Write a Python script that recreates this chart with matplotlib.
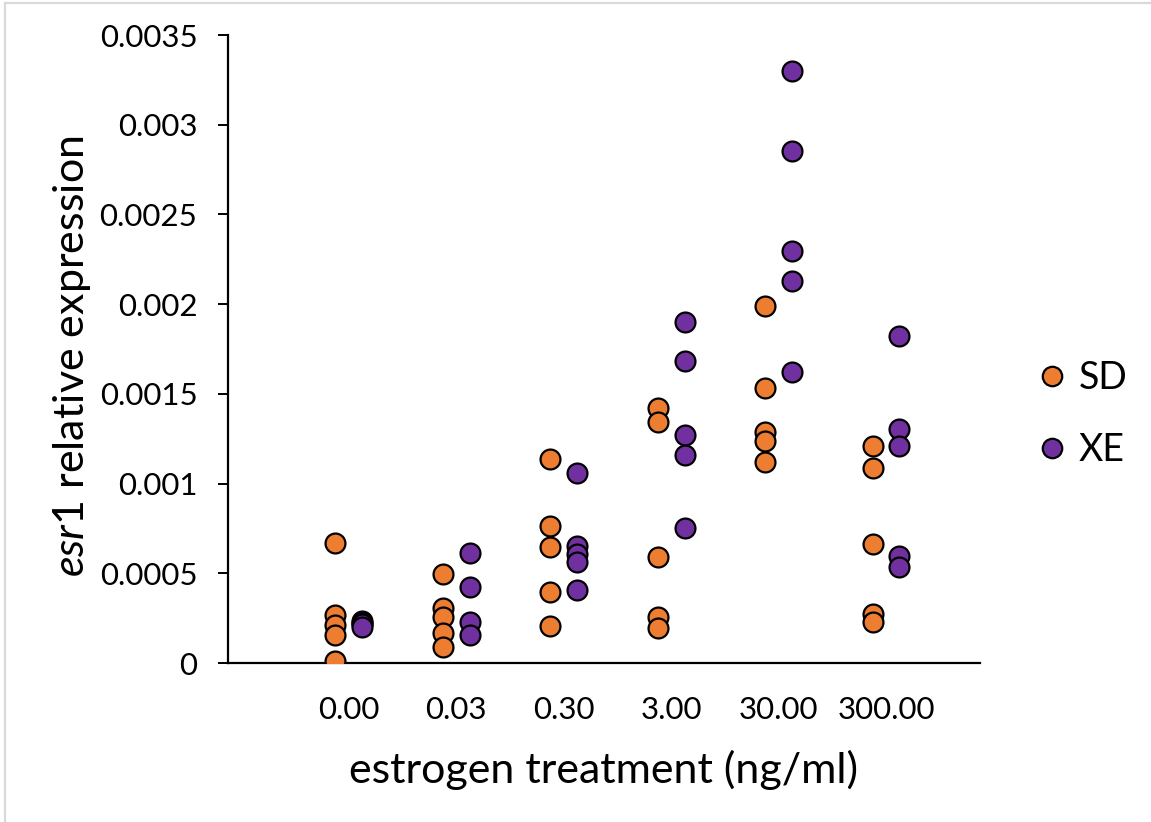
import matplotlib
matplotlib.use("Agg")
import matplotlib.pyplot as plt
from matplotlib.lines import Line2D

# estrogen doses (ng/ml) shown along the x axis
doses = ["0.00", "0.03", "0.30", "3.00", "30.00", "300.00"]

# esr1 relative expression, one list per dose
sd_values = [
    [0.00067, 0.000268, 0.000212, 0.000156, 0.00001],
    [0.000496, 0.000305, 0.000258, 0.000165, 0.000091],
    [0.001135, 0.000766, 0.000649, 0.000398, 0.000206],
    [0.00142, 0.001345, 0.000589, 0.000258, 0.000193],
    [0.00199, 0.001531, 0.001289, 0.001237, 0.001122],
    [0.001211, 0.001085, 0.000663, 0.000271, 0.00023],
]
xe_values = [
    [0.000235, 0.000225, 0.000215, 0.0002],
    [0.000611, 0.000422, 0.00023, 0.000156],
    [0.001057, 0.000654, 0.000607, 0.000562, 0.000407],
    [0.001899, 0.001683, 0.001271, 0.00116, 0.000754],
    [0.0033, 0.002855, 0.002296, 0.002131, 0.00162],
    [0.001822, 0.001304, 0.001211, 0.000598, 0.000537],
]
series_names = ["SD", "XE"]
series_colors = ["#ED7D31", "#7030A0"]

plt.rcParams["font.family"] = ["Lato", "DejaVu Sans"]
plt.rcParams["mathtext.fontset"] = "custom"
plt.rcParams["mathtext.rm"] = "Lato"
plt.rcParams["mathtext.it"] = "Lato:italic"

fig = plt.figure(figsize=(11.51, 8.22), dpi=100)
ax = fig.add_axes([0.1981, 0.1934, 0.6533, 0.7640])

marker_kw = dict(s=205, edgecolors="black", linewidths=1.6, zorder=3)
offsets = [0.0, 0.25]
for k, (name, color, groups) in enumerate(zip(series_names, series_colors, [sd_values, xe_values])):
    xs, ys = [], []
    for i, vals in enumerate(groups):
        xs += [i + 1 + offsets[k]] * len(vals)
        ys += vals
    ax.scatter(xs, ys, color=color, label=name, **marker_kw)

ax.set_xlim(0, 7)
ax.set_ylim(0, 0.0035)
ax.set_yticks([0, 0.0005, 0.001, 0.0015, 0.002, 0.0025, 0.003, 0.0035])
ax.set_yticklabels(["0", "0.0005", "0.001", "0.0015", "0.002", "0.0025", "0.003", "0.0035"])
ax.set_xticks([i + 1.125 for i in range(len(doses))])
ax.set_xticklabels(doses)

for side in ["top", "right"]:
    ax.spines[side].set_visible(False)
for side in ["left", "bottom"]:
    ax.spines[side].set_linewidth(1.6)
    ax.spines[side].set_color("black")

ax.tick_params(axis="y", direction="out", length=7, width=1.4, pad=15, labelsize=22.5)
ax.tick_params(axis="x", length=0, pad=24, labelsize=22.5)

ax.set_xlabel("estrogen treatment (ng/ml)", fontsize=31, va="center")
ax.xaxis.set_label_coords(0.5, -0.170)
ax.set_ylabel(r"$\mathit{esr1}$ relative expression", fontsize=31, va="center")
ax.yaxis.set_label_coords(-0.207, 0.489)

handles = [Line2D([], [], linestyle="none", marker="o", markersize=14,
                  markerfacecolor=c, markeredgecolor="black", markeredgewidth=1.6)
           for c in series_colors]
fig.legend(handles, series_names, loc="center left", bbox_to_anchor=(0.8912, 0.496),
           frameon=False, fontsize=27, handlelength=0.6, handletextpad=0.4,
           labelspacing=0.95, borderaxespad=0)

# thin grey frame along the top and left edges
fig.add_artist(Line2D([5 / 1151, 5 / 1151], [0, 1 - 3 / 822], transform=fig.transFigure,
                      color="#d9d9d9", linewidth=1.6))
fig.add_artist(Line2D([5 / 1151, 1], [1 - 3 / 822, 1 - 3 / 822], transform=fig.transFigure,
                      color="#d9d9d9", linewidth=1.6))

fig.savefig("out.png", dpi=100)
